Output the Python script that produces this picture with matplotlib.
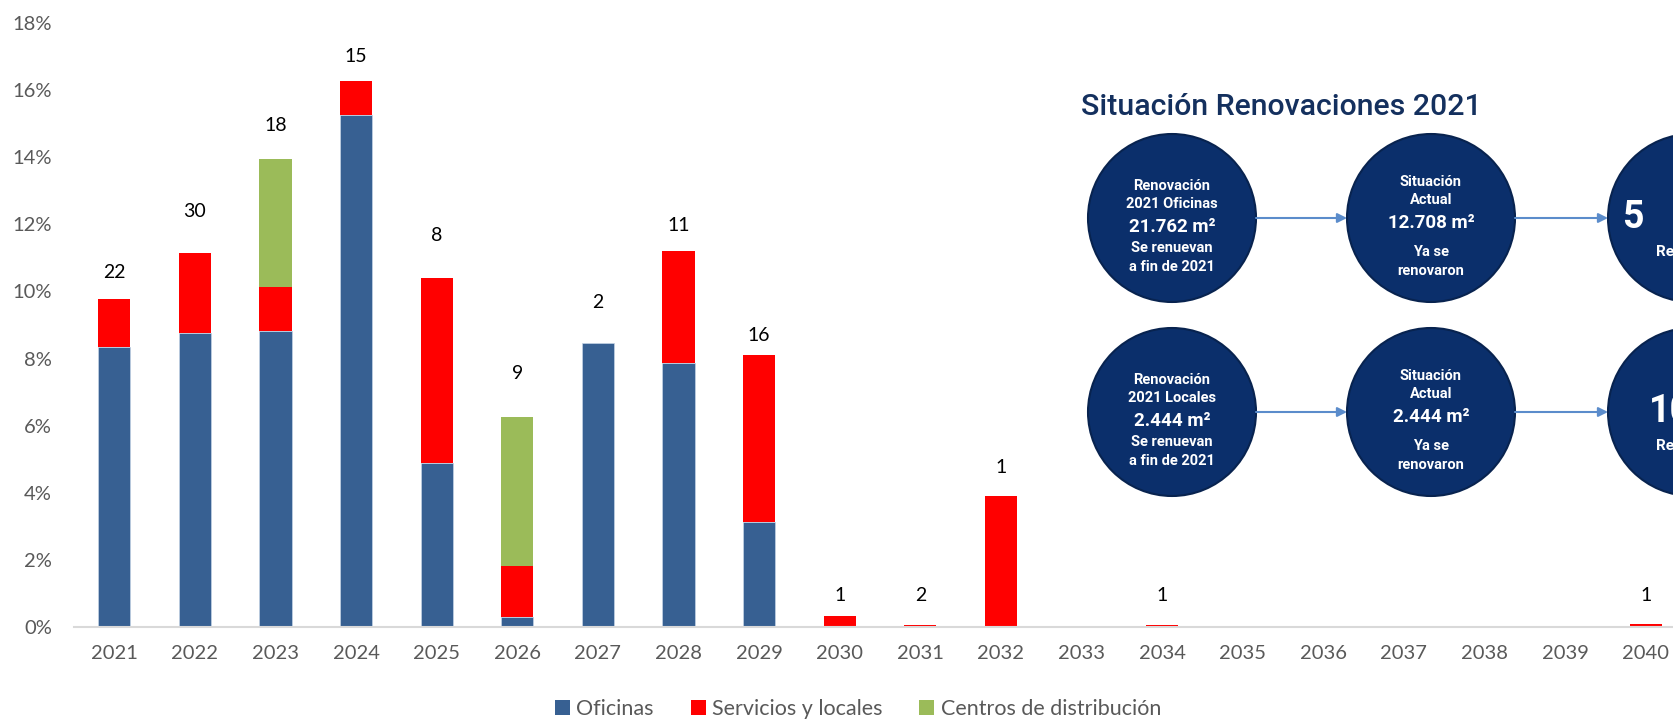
import matplotlib
matplotlib.use("Agg")
import matplotlib.pyplot as plt
from matplotlib.patches import Patch, Circle
from matplotlib.ticker import FuncFormatter
import numpy as np

# Data (percent of total)
years = [str(y) for y in range(2021, 2041)]
oficinas = [8.33, 8.77, 8.82, 15.25, 4.88, 0.31, 8.45, 7.88, 3.14, 0, 0, 0, 0, 0, 0, 0, 0, 0, 0, 0]
servicios = [1.44, 2.37, 1.32, 1.02, 5.53, 1.52, 0, 3.33, 4.96, 0.33, 0.07, 3.91, 0, 0.06, 0, 0, 0, 0, 0, 0.10]
centros = [0, 0, 3.81, 0, 0, 4.42, 0, 0, 0, 0, 0, 0, 0, 0, 0, 0, 0, 0, 0, 0]
# number of contracts shown above the bars, and the height where each label sits
contratos = [22, 30, 18, 15, 8, 9, 2, 11, 16, 1, 2, 1, None, 1, None, None, None, None, None, 1]
label_pos = [10.55, 12.37, 14.96, 16.99, 11.68, 7.55, 9.68, 11.98, 8.70, 0.95, 0.95, 4.74, None, 0.95,
             None, None, None, None, None, 0.95]

series_names = ["Oficinas", "Servicios y locales", "Centros de distribución"]
colors = ["#376092", "#FF0000", "#9BBB59"]

# infographic content
info_title = "Situación Renovaciones 2021"
row1_left = ["Renovación", "2021 Oficinas", "21.762 m²", "Se renuevan", "a fin de 2021"]
row1_mid = ["Situación", "Actual", "12.708 m²", "Ya se", "renovaron"]
row2_left = ["Renovación", "2021 Locales", "2.444 m²", "Se renuevan", "a fin de 2021"]
row2_mid = ["Situación", "Actual", "2.444 m²", "Ya se", "renovaron"]
row1_right = ["5", "Re"]
row2_right = ["10", "Re"]

W, H = 1673, 721
fig = plt.figure(figsize=(W / 100, H / 100), dpi=100)
ax = fig.add_axes([74 / W, (H - 627) / H, 1612 / W, 604 / H])

x = np.arange(len(years))
of = np.array(oficinas)
sv = np.array(servicios)
ce = np.array(centros)
bw = 0.4
ax.bar(x, of, bw, color=colors[0], edgecolor="#c5d3e6", linewidth=0.5)
ax.bar(x, sv, bw, bottom=of, color=colors[1], linewidth=0)
ax.bar(x, ce, bw, bottom=of + sv, color=colors[2], linewidth=0)

for i in range(len(years)):
    if contratos[i] is not None:
        ax.text(x[i], label_pos[i], str(contratos[i]), ha="center", va="center",
                fontsize=14, color="black", family="Lato")

ax.set_xlim(-0.5, len(years) - 0.5)
ax.set_ylim(0, 18)
ax.set_yticks(np.arange(0, 19, 2))
ax.yaxis.set_major_formatter(FuncFormatter(lambda v, p: "%d%%" % v))
ax.set_xticks(x)
ax.set_xticklabels(years)
for s in ["top", "right", "left"]:
    ax.spines[s].set_visible(False)
ax.spines["bottom"].set_color("#D9D9D9")
ax.spines["bottom"].set_linewidth(1.5)
ax.tick_params(axis="both", length=0, labelsize=14.5, labelcolor="#595959")
ax.tick_params(axis="y", pad=16)
ax.tick_params(axis="x", pad=13)
for lab in ax.get_xticklabels() + ax.get_yticklabels():
    lab.set_family("Lato")

handles = [Patch(facecolor=c, edgecolor="none") for c in colors]
fig.legend(handles, series_names, loc="center", bbox_to_anchor=(858 / W, 1 - 709 / H), ncol=3,
           frameon=False, prop={"family": "Lato", "size": 15.5}, labelcolor="#595959",
           handlelength=0.7, handleheight=0.7, handletextpad=0.3, columnspacing=1.7)

# infographic overlay, drawn in pixel coordinates
ov = fig.add_axes([0, 0, 1, 1])
ov.set_xlim(0, W)
ov.set_ylim(H, 0)
ov.axis("off")

navy = "#0B2F6B"
ov.text(1081, 115, info_title, ha="left", va="baseline", fontsize=21.8, color="#14305E",
        family="Roboto", weight="medium")

cx = [1172, 1431, 1692]
cy = [218, 412]
r = 84
for yy in cy:
    for xx in cx:
        ov.add_patch(Circle((xx, yy), r, facecolor=navy, edgecolor="#08234F", linewidth=1.5))
    for a, b in [(cx[0] + r, cx[1] - r), (cx[1] + r, cx[2] - r)]:
        ov.annotate("", xy=(b, yy), xytext=(a, yy),
                    arrowprops=dict(arrowstyle="-|>", color="#5B8CCB", lw=1.5,
                                    mutation_scale=14, shrinkA=0, shrinkB=0))

left_dy = [-32, -14, 9, 30, 49]
mid_dy = [-36, -18, 5, 34, 53]
sizes = [10.5, 10.5, 13.5, 10.5, 10.5]

def circle_text(xc, yc, lines, dys):
    for t, dy, fs in zip(lines, dys, sizes):
        ov.text(xc, yc + dy, t, ha="center", va="center", fontsize=fs, color="white",
                family="Roboto", weight="bold")

circle_text(cx[0], cy[0], row1_left, left_dy)
circle_text(cx[1], cy[0], row1_mid, mid_dy)
circle_text(cx[0], cy[1], row2_left, left_dy)
circle_text(cx[1], cy[1], row2_mid, mid_dy)

for yy, txt, x0 in [(cy[0], row1_right, 1622), (cy[1], row2_right, 1649)]:
    ov.text(x0, yy, txt[0], ha="left", va="center", fontsize=27, color="white",
            family="Roboto", weight="bold")
    ov.text(1656, yy + 34, txt[1], ha="left", va="center", fontsize=11, color="white",
            family="Roboto", weight="bold")

fig.savefig("out.png", dpi=100)
